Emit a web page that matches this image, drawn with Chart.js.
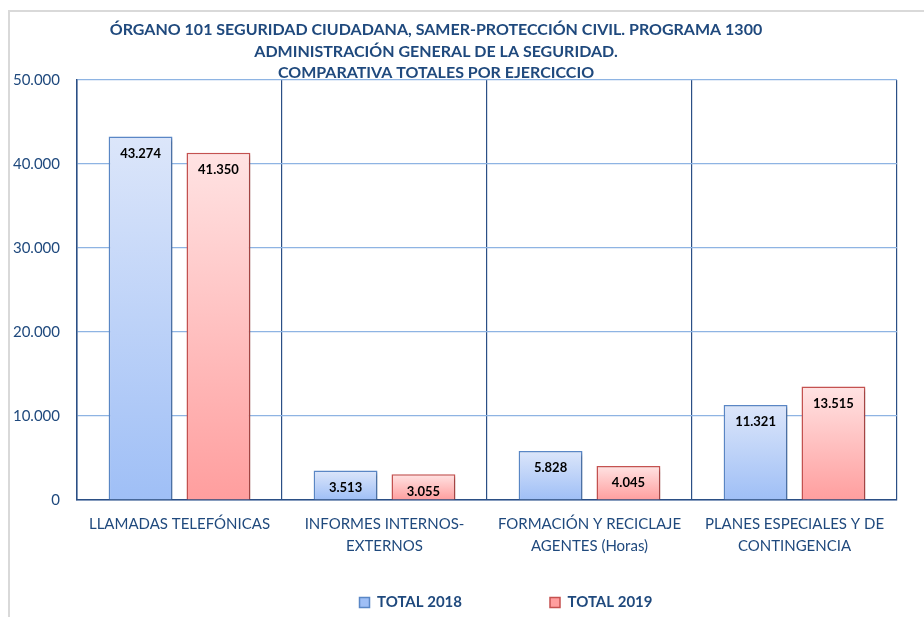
<!DOCTYPE html>
<html>
<head>
<meta charset="utf-8">
<script src="https://cdn.jsdelivr.net/npm/chart.js@4"></script>
<style>
  html, body { margin: 0; padding: 0; background: #fff; }
  #wrap { position: relative; width: 924px; height: 617px; overflow: hidden; }
  #frame {
    position: absolute; left: 8px; top: 10px; width: 1000px; height: 700px;
    border-top: 2px solid #d9d9d9; border-left: 2px solid #d9d9d9;
    pointer-events: none;
  }
</style>
</head>
<body>
<div id="wrap">
  <div id="frame"></div>
  <canvas id="grafico" width="924" height="617"></canvas>
</div>
<script>
const categorias = [
    ["LLAMADAS TELEFÓNICAS"],
    ["INFORMES INTERNOS-", "EXTERNOS"],
    ["FORMACIÓN Y RECICLAJE", "AGENTES (Horas)"],
    ["PLANES ESPECIALES Y DE", "CONTINGENCIA"],
];
const total2018 = [43274, 3513, 5828, 11321];
const total2019 = [41350, 3055, 4045, 13515];
const titulo = [
    "ÓRGANO 101 SEGURIDAD CIUDADANA, SAMER-PROTECCIÓN CIVIL. PROGRAMA 1300",
    "ADMINISTRACIÓN GENERAL DE LA SEGURIDAD.",
    "COMPARATIVA TOTALES POR EJERCICCIO",
];

const azulTexto = "#1F497D";
const fuente = "Lato, 'Open Sans', sans-serif";
const huecoLeyenda = 88;

function miles(v) {
    return String(v).replace(/\B(?=(\d{3})+(?!\d))/g, ".");
}

// degradado por barra, claro arriba y oscuro abajo
function degradado(arriba, abajo, plano) {
    return (ctx) => {
        const chart = ctx.chart;
        if (ctx.type !== "data" || !chart.chartArea || !chart.scales.y) return plano;
        const y = chart.scales.y;
        const top = y.getPixelForValue(ctx.raw);
        const base = y.getPixelForValue(0);
        const g = chart.ctx.createLinearGradient(0, top, 0, base);
        g.addColorStop(0, arriba);
        g.addColorStop(1, abajo);
        return g;
    };
}

const etiquetasPlugin = {
    id: "etiquetas",
    afterLayout(chart) {
        // la leyenda queda centrada algo a la derecha y pegada al pie
        const lg = chart.legend;
        if (lg) {
            lg.top = 603 - huecoLeyenda - 8;
            lg.bottom = lg.top + lg.height;
            lg.left += 19;
            lg.right += 19;
        }
    },
    beforeDatasetsDraw(chart) {
        const c = chart.ctx;
        c.save();
        c.shadowColor = "rgba(0,0,0,0.22)";
        c.shadowBlur = 3;
        c.shadowOffsetX = 2;
        c.shadowOffsetY = 2;
    },
    afterDatasetsDraw(chart) {
        const c = chart.ctx;
        c.restore();
        c.save();
        c.font = "bold 13px " + fuente;
        c.fillStyle = "#000";
        c.textAlign = "center";
        c.textBaseline = "middle";
        chart.data.datasets.forEach((ds, i) => {
            chart.getDatasetMeta(i).data.forEach((bar, j) => {
                c.fillText(miles(ds.data[j]), bar.x, bar.y + 17);
            });
        });
        c.restore();
    },
    afterDraw(chart) {
        const c = chart.ctx;
        c.save();
        c.font = "bold 16px " + fuente;
        c.fillStyle = azulTexto;
        c.textAlign = "center";
        c.textBaseline = "middle";
        titulo.forEach((t, i) => c.fillText(t, 436, 30 + i * 21.5));
        c.restore();
    },
};

new Chart(document.getElementById("grafico"), {
    type: "bar",
    data: {
        labels: categorias,
        datasets: [
            {
                label: "TOTAL 2018",
                data: total2018,
                backgroundColor: degradado("#DCE6FA", "#9FBFF6", "#C9DAF8"),
                borderColor: "#5A87C6",
                borderWidth: 1.5,
                categoryPercentage: 0.76,
                barPercentage: 0.82,
            },
            {
                label: "TOTAL 2019",
                data: total2019,
                backgroundColor: degradado("#FFE3E3", "#FF9E9E", "#FFC9C9"),
                borderColor: "#C55250",
                borderWidth: 1.5,
                categoryPercentage: 0.76,
                barPercentage: 0.82,
            },
        ],
    },
    options: {
        responsive: false,
        animation: false,
        layout: {
            padding: { left: 8, right: 27, top: 80, bottom: -54 },
        },
        scales: {
            x: {
                grid: {
                    color: "#2B4F85",
                    lineWidth: 1.2,
                    drawTicks: false,
                },
                border: { color: "#2B4F85", width: 1.5 },
                ticks: {
                    color: azulTexto,
                    font: { family: fuente, size: 15, lineHeight: 1.47 },
                    padding: 13,
                    maxRotation: 0,
                },
                afterFit(s) {
                    s.height = 58;
                },
            },
            y: {
                min: 0,
                max: 50000,
                grid: {
                    color: "#8EB4E3",
                    lineWidth: 1.2,
                    drawTicks: false,
                },
                border: { color: "#2B4F85", width: 1.5 },
                ticks: {
                    stepSize: 10000,
                    color: azulTexto,
                    font: { family: fuente, size: 15 },
                    padding: 17,
                    callback: (v) => miles(v),
                },
                afterFit(s) {
                    s.width = 69;
                },
            },
        },
        plugins: {
            title: { display: false },
            tooltip: { enabled: false },
            legend: {
                position: "bottom",
                fullSize: false,
                labels: {
                    boxWidth: 10,
                    boxHeight: 10,
                    padding: huecoLeyenda,
                    color: azulTexto,
                    font: { family: fuente, size: 15, weight: "bold" },
                },
            },
        },
    },
    plugins: [etiquetasPlugin],
});
</script>
</body>
</html>
